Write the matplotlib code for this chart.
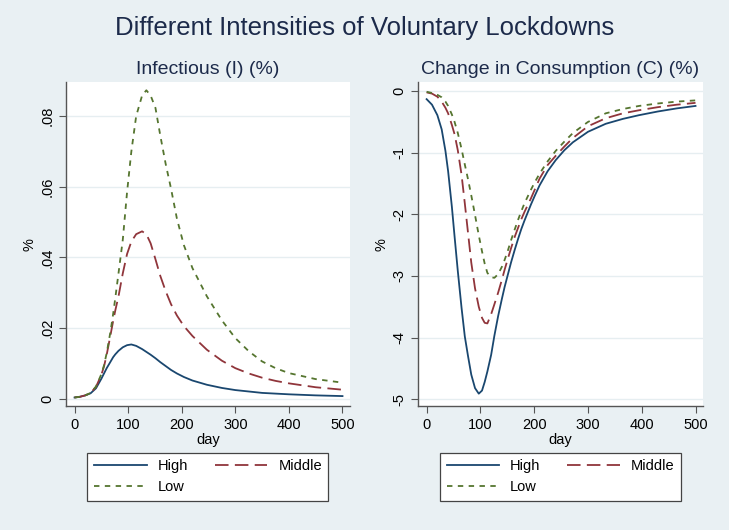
import matplotlib
matplotlib.use("Agg")
import matplotlib.pyplot as plt
from matplotlib.ticker import FuncFormatter

plt.rcParams['font.family'] = ['Liberation Sans', 'DejaVu Sans']

# Infectious share (%) by day
days_i = [0, 10, 20, 30, 40, 50, 55, 60, 67, 72, 76, 82, 90, 98, 106, 115, 126, 134,
          142, 151, 160, 170, 180, 191, 204, 220, 247, 275, 300, 325, 350, 375, 400,
          450, 500]
inf_high = [0.0004, 0.0006, 0.0010, 0.0016, 0.0030, 0.0057, 0.0072, 0.0087, 0.0105,
            0.0118, 0.0126, 0.0136, 0.0146, 0.0152, 0.0154, 0.0150, 0.0141, 0.0133,
            0.0125, 0.0115, 0.0104, 0.0093, 0.0082, 0.0072, 0.0062, 0.0052, 0.0040,
            0.0031, 0.0025, 0.0021, 0.0017, 0.0015, 0.0013, 0.0010, 0.0008]
inf_mid = [0.0004, 0.0006, 0.0010, 0.0017, 0.0034, 0.0068, 0.0092, 0.0125, 0.0180,
           0.0220, 0.0250, 0.0290, 0.0355, 0.0410, 0.0445, 0.0466, 0.0474, 0.0466,
           0.0440, 0.0395, 0.0348, 0.0305, 0.0268, 0.0236, 0.0206, 0.0178, 0.0139,
           0.0108, 0.0087, 0.0072, 0.0060, 0.0051, 0.0044, 0.0033, 0.0026]
inf_low = [0.0004, 0.0006, 0.0010, 0.0017, 0.0035, 0.0070, 0.0095, 0.0130, 0.0190,
           0.0240, 0.0285, 0.0355, 0.0450, 0.0585, 0.0700, 0.0800, 0.0858, 0.0873,
           0.0858, 0.0823, 0.0745, 0.0665, 0.0595, 0.0510, 0.0435, 0.0370, 0.0290,
           0.0222, 0.0172, 0.0135, 0.0106, 0.0087, 0.0073, 0.0056, 0.0046]

# Change in consumption (%) by day
days_c = [0, 10, 20, 28, 35, 40, 47, 52, 58, 65, 71, 77, 83, 90, 97, 103, 108, 113,
          120, 126, 133, 140, 145, 151, 157, 164, 170, 176, 182, 194, 201, 210, 225,
          240, 256, 272, 300, 333, 365, 395, 430, 465, 500]
con_high = [-0.13, -0.22, -0.39, -0.62, -0.97, -1.30, -1.88, -2.36, -2.92, -3.52,
            -3.98, -4.30, -4.60, -4.82, -4.91, -4.86, -4.72, -4.55, -4.28, -3.97,
            -3.65, -3.37, -3.18, -2.98, -2.78, -2.57, -2.40, -2.24, -2.10, -1.84,
            -1.70, -1.53, -1.30, -1.12, -0.96, -0.83, -0.66, -0.53, -0.45, -0.39,
            -0.33, -0.28, -0.24]
con_mid = [-0.02, -0.04, -0.09, -0.17, -0.27, -0.36, -0.55, -0.70, -0.96, -1.36,
           -1.82, -2.30, -2.78, -3.20, -3.50, -3.68, -3.76, -3.77, -3.62, -3.46,
           -3.27, -3.06, -2.90, -2.72, -2.55, -2.36, -2.22, -2.08, -1.96, -1.74,
           -1.60, -1.42, -1.20, -1.05, -0.90, -0.76, -0.57, -0.44, -0.36, -0.31,
           -0.26, -0.22, -0.19]
con_low = [-0.01, -0.03, -0.06, -0.10, -0.17, -0.24, -0.38, -0.50, -0.68, -0.94,
           -1.19, -1.43, -1.69, -2.01, -2.34, -2.60, -2.80, -2.95, -3.02, -3.03,
           -2.97, -2.85, -2.74, -2.59, -2.42, -2.24, -2.09, -1.95, -1.82, -1.60,
           -1.48, -1.34, -1.14, -0.97, -0.82, -0.68, -0.50, -0.36, -0.29, -0.24,
           -0.20, -0.17, -0.15]

labels = ['High', 'Middle', 'Low']
colors = ['#1a476f', '#90353b', '#55752f']
bg = '#e9f0f3'


def stata_fmt(v, pos):
    if abs(v) < 1e-12:
        return '0'
    return ('%g' % v).replace('0.', '.')


fig = plt.figure(figsize=(7.29, 5.30), dpi=100, facecolor=bg)
fig.text(0.5, 0.947, 'Different Intensities of Voluntary Lockdowns', ha='center',
         va='center', fontsize=18.5, color='#1c2a4a')

ax1 = fig.add_axes([0.0905, 0.234, 0.3896, 0.611])
ax2 = fig.add_axes([0.5734, 0.234, 0.391, 0.611])

for ax, days, series, title, ylim, yticks in [
        (ax1, days_i, [inf_high, inf_mid, inf_low], 'Infectious (I) (%)',
         (-0.002, 0.0896), [0, 0.02, 0.04, 0.06, 0.08]),
        (ax2, days_c, [con_high, con_mid, con_low], 'Change in Consumption (C) (%)',
         (-5.11, 0.146), [0, -1, -2, -3, -4, -5])]:
    ax.set_facecolor('white')
    l1, = ax.plot(days, series[0], color=colors[0], lw=1.3, label=labels[0])
    l2, = ax.plot(days, series[1], color=colors[1], lw=1.3, dashes=(7.5, 3.5),
                  label=labels[1])
    l3, = ax.plot(days, series[2], color=colors[2], lw=1.3, dashes=(3, 3),
                  label=labels[2])
    ax.set_xlim(-16, 514)
    ax.set_ylim(*ylim)
    ax.set_xticks([0, 100, 200, 300, 400, 500])
    ax.set_yticks(yticks)
    ax.yaxis.set_major_formatter(FuncFormatter(stata_fmt))
    ax.grid(axis='y', color='#e6eef1', lw=1)
    ax.set_axisbelow(True)
    for s in ['top', 'right']:
        ax.spines[s].set_visible(False)
    for s in ['left', 'bottom']:
        ax.spines[s].set_color('#555555')
        ax.spines[s].set_linewidth(1)
    ax.tick_params(direction='out', length=5, color='#555555', labelsize=10.5,
                   labelcolor='black')
    for lab in ax.get_yticklabels():
        lab.set_rotation(90)
        lab.set_va('center')
    ax.set_xlabel('day', fontsize=10.5, labelpad=1)
    ax.set_ylabel('%', fontsize=10.5, labelpad=3)
    ax.set_title(title, fontsize=14, color='#1c2a4a', pad=6)
    # column-major fill: High/Low in col 1, Middle in col 2
    leg = ax.legend([l1, l3, l2], ['High', 'Low', 'Middle'], ncol=2,
                    loc='upper center', bbox_to_anchor=(0.5, -0.145),
                    borderaxespad=0, fontsize=10.5, handlelength=3.6,
                    columnspacing=1.85, handletextpad=0.75, borderpad=0.45,
                    labelspacing=0.45, fancybox=False, framealpha=1,
                    edgecolor='#444444')
    leg.get_frame().set_linewidth(0.9)

fig.savefig('out.png', dpi=100, facecolor=bg)
